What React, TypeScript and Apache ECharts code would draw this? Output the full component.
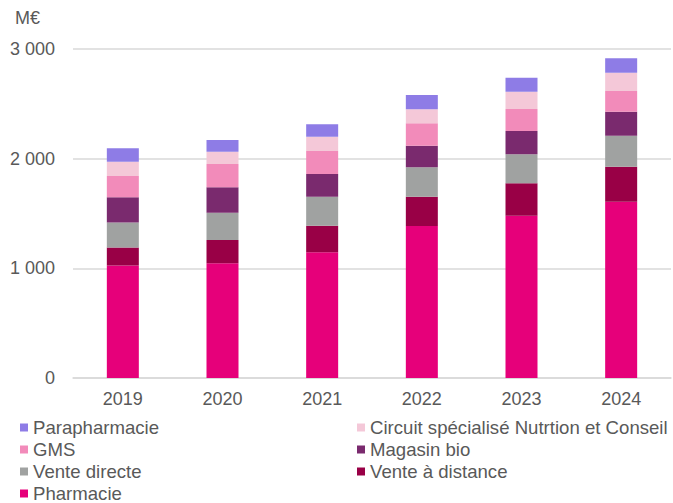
import React, { useEffect, useRef } from "react";
import * as echarts from "echarts";

const years = ["2019", "2020", "2021", "2022", "2023", "2024"];
const pharmacie = [1025, 1046, 1146, 1386, 1480, 1608];
const venteADistance = [164, 212, 243, 267, 295, 319];
const venteDirecte = [228, 249, 264, 268, 265, 282];
const magasinBio = [232, 232, 207, 197, 212, 219];
const gms = [194, 212, 210, 204, 201, 189];
const circuit = [130, 113, 130, 128, 158, 167];
const parapharmacie = [122, 106, 113, 130, 127, 131];

const seriesDefs = [
  { name: "Pharmacie", data: pharmacie, color: "#E6007A" },
  { name: "Vente à distance", data: venteADistance, color: "#990046" },
  { name: "Vente directe", data: venteDirecte, color: "#A0A2A1" },
  { name: "Magasin bio", data: magasinBio, color: "#7A2A6E" },
  { name: "GMS", data: gms, color: "#F28BBA" },
  { name: "Circuit spécialisé Nutrtion et Conseil", data: circuit, color: "#F4C8D8" },
  { name: "Parapharmacie", data: parapharmacie, color: "#8E7CE6" },
];

const FONT = "'Liberation Sans', Arial, sans-serif";
const TXT = "#595959";

export default function App() {
  const ref = useRef<HTMLDivElement>(null);
  useEffect(() => {
    const chart = echarts.init(ref.current!, null, { renderer: "svg" });
    const legendText = { fontSize: 18.6, color: TXT, fontFamily: FONT, lineHeight: 18 };
    chart.setOption({
      animation: false,
      textStyle: { fontFamily: FONT },
      grid: { left: 73, right: 2, top: 49, bottom: 125, containLabel: false },
      graphic: [
        {
          type: "text",
          left: 15,
          top: 9,
          style: { text: "M€", fontSize: 18, fill: TXT, fontFamily: FONT },
        },
      ],
      legend: [
        {
          orient: "vertical",
          left: 20,
          top: 418,
          height: 120,
          itemWidth: 8,
          itemHeight: 8,
          itemGap: 3,
          icon: "rect",
          padding: 0,
          textStyle: legendText,
          data: ["Parapharmacie", "GMS", "Vente directe", "Pharmacie"],
        },
        {
          orient: "vertical",
          left: 357,
          top: 418,
          height: 120,
          itemWidth: 8,
          itemHeight: 8,
          itemGap: 3,
          icon: "rect",
          padding: 0,
          textStyle: legendText,
          data: ["Circuit spécialisé Nutrtion et Conseil", "Magasin bio", "Vente à distance"],
        },
      ],
      xAxis: {
        type: "category",
        data: years,
        axisLine: { lineStyle: { color: "#D9D9D9", width: 1.5 } },
        axisTick: { show: false },
        axisLabel: { fontSize: 18, color: TXT, fontFamily: FONT, margin: 12 },
      },
      yAxis: {
        type: "value",
        min: 0,
        max: 3000,
        interval: 1000,
        axisLine: { show: false },
        axisTick: { show: false },
        splitLine: { lineStyle: { color: "#D9D9D9", width: 1.5 } },
        axisLabel: {
          fontSize: 18,
          color: TXT,
          fontFamily: FONT,
          margin: 18,
          formatter: (v: number) => (v === 0 ? "0" : String(v / 1000) + " 000"),
        },
      },
      series: seriesDefs.map((s) => ({
        name: s.name,
        type: "bar",
        stack: "total",
        barWidth: 32,
        data: s.data,
        itemStyle: { color: s.color },
      })),
    });
    return () => chart.dispose();
  }, []);
  return <div ref={ref} style={{ width: 673, height: 503, position: "absolute", left: 0, top: 0 }} />;
}
